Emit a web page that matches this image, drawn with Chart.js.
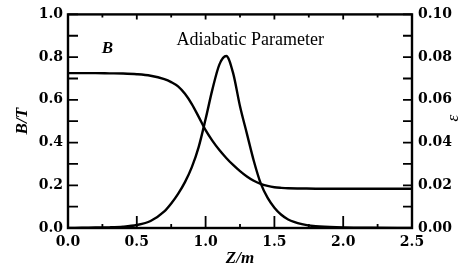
<!DOCTYPE html>
<html><head><meta charset="utf-8">
<script src="https://cdn.jsdelivr.net/npm/chart.js@4/dist/chart.umd.min.js"></script>
<style>html,body{margin:0;padding:0;background:#fff}#wrap{width:471px;height:270px;position:relative}</style>
</head><body><div id="wrap"><canvas id="c" width="471" height="270"></canvas></div>
<script>
const zValues   = [0, 0.1, 0.2, 0.3, 0.4, 0.5, 0.6, 0.7, 0.75, 0.8, 0.85, 0.9, 0.95, 1.0, 1.05, 1.1, 1.15, 1.2, 1.25, 1.3, 1.35, 1.4, 1.45, 1.5, 1.55, 1.6, 1.7, 1.8, 2.0, 2.2, 2.5];
const bField    = [0.725, 0.725, 0.725, 0.724, 0.723, 0.72, 0.713, 0.697, 0.683, 0.663, 0.628, 0.58, 0.52, 0.458, 0.408, 0.365, 0.328, 0.295, 0.266, 0.241, 0.221, 0.206, 0.197, 0.191, 0.188, 0.186, 0.185, 0.184, 0.184, 0.184, 0.184];
const adiabatic = [0, 0.0001, 0.0002, 0.0003, 0.0006, 0.0014, 0.0033, 0.0078, 0.0115, 0.016, 0.0215, 0.0285, 0.038, 0.051, 0.065, 0.0765, 0.0805, 0.0725, 0.057, 0.0442, 0.0315, 0.021, 0.0142, 0.0095, 0.0062, 0.004, 0.0018, 0.0008, 0.0003, 0.0001, 0];
const xTicks = [0, 0.5, 1.0, 1.5, 2.0, 2.5];
const leftTicks = [0, 0.2, 0.4, 0.6, 0.8, 1.0];
const rightTicks = [0, 0.02, 0.04, 0.06, 0.08, 0.10];

const serif = '"Liberation Serif", "DejaVu Serif", serif';
const wideSerif = '"DejaVu Serif", "Liberation Serif", serif';

const framePlugin = {
  id: 'frame',
  afterDatasetsDraw(chart) {
    const ctx = chart.ctx, a = chart.chartArea;
    const x = chart.scales.x, y = chart.scales.y, y1 = chart.scales.y1;
    ctx.save();
    ctx.strokeStyle = '#000';
    ctx.lineWidth = 2.4;
    ctx.strokeRect(a.left, a.top, a.right - a.left, a.bottom - a.top);
    ctx.lineWidth = 1.8;
    ctx.beginPath();
    for (let v = 0; v <= 1.0001; v += 0.1) {
      const p = y.getPixelForValue(v);
      ctx.moveTo(a.left, p); ctx.lineTo(a.left + 10, p);
    }
    for (let v = 0; v <= 0.10001; v += 0.01) {
      const p = y1.getPixelForValue(v);
      ctx.moveTo(a.right, p); ctx.lineTo(a.right - 9, p);
    }
    for (let v = 0; v <= 2.5001; v += 0.25) {
      const p = x.getPixelForValue(v);
      const major = Math.abs(v / 0.5 - Math.round(v / 0.5)) < 1e-6;
      ctx.moveTo(p, a.bottom); ctx.lineTo(p, a.bottom - (major ? 12 : 4));
      ctx.moveTo(p, a.top); ctx.lineTo(p, a.top + (major ? 5 : 3));
    }
    ctx.stroke();
    // annotations
    ctx.fillStyle = '#000';
    ctx.font = 'bold italic 17px ' + serif;
    ctx.textAlign = 'left'; ctx.textBaseline = 'alphabetic';
    ctx.fillText('B', x.getPixelForValue(0.245), y.getPixelForValue(0.818));
    ctx.font = '18px ' + serif;
    ctx.textAlign = 'center';
    ctx.fillText('Adiabatic Parameter', x.getPixelForValue(1.325), y.getPixelForValue(0.858));
    // right axis title, rotated like the left one
    ctx.translate(a.right + 42, (a.top + a.bottom) / 2 - 3);
    ctx.rotate(-Math.PI / 2);
    ctx.font = 'italic 17px ' + serif;
    ctx.textBaseline = 'middle';
    ctx.fillText('ε', 0, 0);
    ctx.restore();
  }
};

const tickFont = { family: wideSerif, size: 14, weight: 'bold' };

new Chart(document.getElementById('c'), {
  type: 'line',
  data: {
    datasets: [
      { label: 'B', data: zValues.map((z, i) => ({x: z, y: bField[i]})), yAxisID: 'y',
        borderColor: '#000', borderWidth: 2.4, pointRadius: 0, cubicInterpolationMode: 'monotone', fill: false },
      { label: 'ε', data: zValues.map((z, i) => ({x: z, y: adiabatic[i]})), yAxisID: 'y1',
        borderColor: '#000', borderWidth: 2.4, pointRadius: 0, cubicInterpolationMode: 'monotone', fill: false }
    ]
  },
  options: {
    responsive: false, animation: false, devicePixelRatio: 1,
    layout: { padding: { top: 14, left: 12, right: 0, bottom: 0 } },
    plugins: { legend: { display: false }, tooltip: { enabled: false } },
    scales: {
      x: {
        type: 'linear', min: 0, max: 2.5,
        afterBuildTicks: s => { s.ticks = xTicks.map(v => ({value: v})); },
        afterFit: s => { s.height = 42; },
        grid: { display: false, drawTicks: false }, border: { display: false },
        ticks: { color: '#000', font: tickFont, padding: 6, maxRotation: 0,
                 callback: v => v.toFixed(1) },
        title: { display: true, text: 'Z/m', color: '#000', font: { family: serif, size: 17, weight: 'bold', style: 'italic' }, padding: { top: -5, bottom: 1 } }
      },
      y: {
        position: 'left', min: 0, max: 1,
        afterBuildTicks: s => { s.ticks = leftTicks.map(v => ({value: v})); },
        afterFit: s => { s.width = 56; },
        grid: { display: false, drawTicks: false }, border: { display: false },
        ticks: { color: '#000', font: tickFont, padding: 5,
                 callback: v => v.toFixed(1) },
        title: { display: true, text: 'B/T', color: '#000', font: { family: serif, size: 17, weight: 'bold', style: 'italic' }, padding: { top: 0, bottom: 0 } }
      },
      y1: {
        position: 'right', min: 0, max: 0.1,
        afterBuildTicks: s => { s.ticks = rightTicks.map(v => ({value: v})); },
        afterFit: s => { s.width = 59; },
        grid: { display: false, drawTicks: false }, border: { display: false },
        ticks: { color: '#000', font: tickFont, padding: 6,
                 callback: v => v.toFixed(2) }
      }
    }
  },
  plugins: [framePlugin]
});
</script></body></html>
